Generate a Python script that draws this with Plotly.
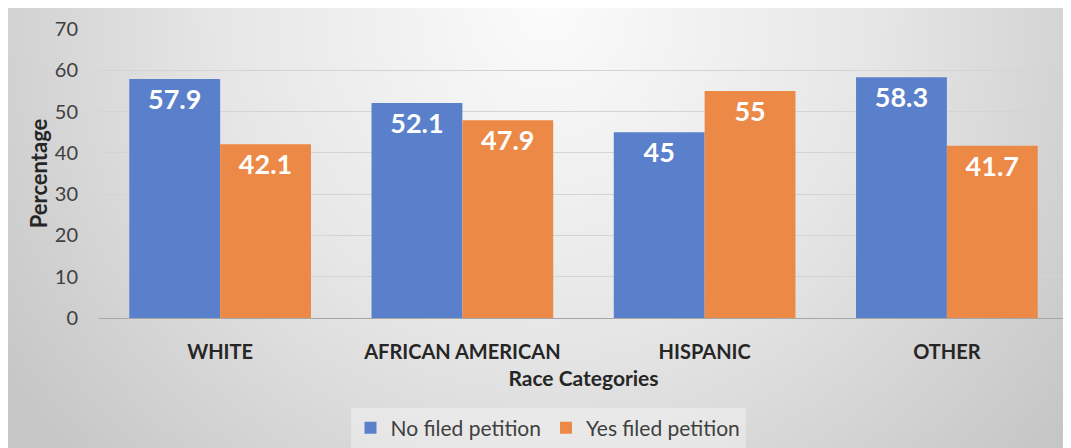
import base64

import plotly.graph_objects as go

categories = ["WHITE", "AFRICAN AMERICAN", "HISPANIC", "OTHER"]
no_filed = [57.9, 52.1, 45, 58.3]
yes_filed = [42.1, 47.9, 55, 41.7]
no_labels = ["57.9", "52.1", "45", "58.3"]
yes_labels = ["42.1", "47.9", "55", "41.7"]

# the page body adds an 8px margin, so the figure is drawn 8px smaller
W, H = 1063, 440
L, R, T, B = 91, 3, 21, 130
PW, PH = W - L - R, H - T - B

FONT = "Lato, Open Sans, sans-serif"
BLUE = "#5a80cb"
ORANGE = "#ec8946"


def px_x(p):
    return (p - L) / PW


def px_y(p):
    return (H - B - p) / PH


# radial grey gradient behind the chart (light at top centre)
BG_W = 1060
svg = (
    f'<svg xmlns="http://www.w3.org/2000/svg" width="{BG_W}" height="{H}">'
    '<defs><radialGradient id="g" gradientUnits="userSpaceOnUse" '
    f'cx="540" cy="0" r="660">'
    '<stop offset="0" stop-color="#fbfbfb"/>'
    '<stop offset="0.5" stop-color="#e6e6e6"/>'
    '<stop offset="1" stop-color="#c6c6c6"/>'
    '</radialGradient></defs>'
    f'<rect width="{BG_W}" height="{H}" fill="url(#g)"/></svg>'
)
bg_src = "data:image/svg+xml;base64," + base64.b64encode(svg.encode()).decode()

label_font = dict(family=FONT, size=27, color="white", weight="bold")

fig = go.Figure()
fig.add_trace(go.Bar(
    x=categories, y=no_filed, name="No filed petition",
    marker=dict(color=BLUE, line=dict(width=0)),
    text=no_labels, textposition="inside", insidetextanchor="end",
    textfont=label_font, textangle=0, hoverinfo="skip",
))
fig.add_trace(go.Bar(
    x=categories, y=yes_filed, name="Yes filed petition",
    marker=dict(color=ORANGE, line=dict(width=0)),
    text=yes_labels, textposition="inside", insidetextanchor="end",
    textfont=label_font, textangle=0, hoverinfo="skip",
))

fig.add_layout_image(
    source=bg_src, xref="paper", yref="paper",
    x=px_x(0), y=px_y(0), sizex=px_x(BG_W) - px_x(0), sizey=px_y(0) - px_y(H),
    xanchor="left", yanchor="top", sizing="stretch", layer="below",
)

fig.update_layout(
    width=W, height=H,
    margin=dict(l=L, r=R, t=T, b=B, autoexpand=False),
    paper_bgcolor="white",
    plot_bgcolor="rgba(0,0,0,0)",
    barmode="group", bargap=0.25, bargroupgap=0,
    uniformtext=dict(minsize=10, mode="show"),
    font=dict(family=FONT, color="#595959"),
    showlegend=True,
    legend=dict(
        orientation="h", x=px_x(540), xanchor="center",
        y=px_y(420), yanchor="middle",
        bgcolor="rgba(255,255,255,0.35)", font=dict(size=21, color="#404040"),
        itemwidth=30, tracegroupgap=0,
    ),
    xaxis=dict(
        showgrid=False, showline=True, linecolor="#a6a6a6", linewidth=1,
        ticks="", ticklabelstandoff=16,
        tickfont=dict(size=20, color="#262626", weight="bold"),
        title=dict(text="Race Categories", standoff=9,
                   font=dict(size=21, color="#262626", weight="bold")),
    ),
    yaxis=dict(
        range=[0, 70], dtick=10, showgrid=True, gridcolor="#d4d4d4",
        gridwidth=1, zeroline=False, ticks="", ticklabelstandoff=20,
        tickfont=dict(size=20, color="#404040"),
        title=dict(text="Percentage", standoff=1,
                   font=dict(size=22, color="#262626", weight="bold")),
    ),
)

fig.write_html("out.html")
